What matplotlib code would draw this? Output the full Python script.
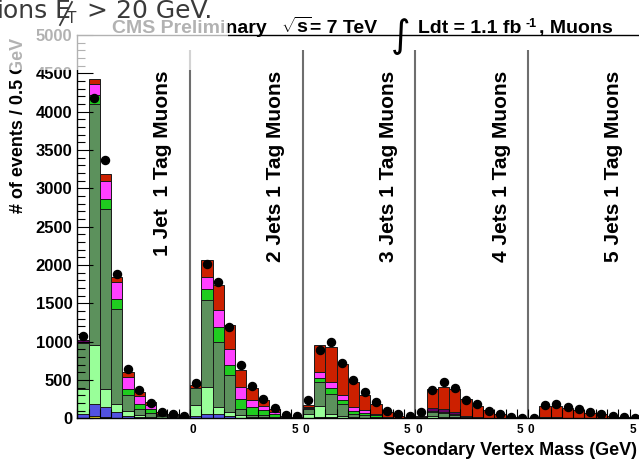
import numpy as np
import matplotlib
matplotlib.use('Agg')
import matplotlib.pyplot as plt
from matplotlib.patches import Rectangle
from matplotlib.lines import Line2D

plt.rcParams['font.family'] = ['Liberation Sans', 'DejaVu Sans']
plt.rcParams['mathtext.fontset'] = 'custom'
plt.rcParams['mathtext.rm'] = 'Liberation Sans:bold'
plt.rcParams['mathtext.it'] = 'Liberation Sans:bold'
plt.rcParams['mathtext.bf'] = 'Liberation Sans:bold'

# jet multiplicity bins, each 0-5 GeV of vertex mass in 0.5 GeV bins
panels = ['1 Jet  1 Tag Muons', '2 Jets 1 Tag Muons', '3 Jets 1 Tag Muons',
          '4 Jets 1 Tag Muons', '5 Jets 1 Tag Muons']

# stacked simulation, events per bin, one list per jet bin
qcd = [[10, 30, 20, 10, 5, 3, 0, 0, 0, 0],
       [3, 10, 5, 3, 0, 0, 0, 0, 0, 0],
       [0] * 10, [0] * 10, [0] * 10]
zjets = [[50, 160, 127, 72, 30, 15, 8, 3, 2, 1],
         [30, 40, 50, 25, 10, 5, 3, 2, 1, 0],
         [8, 17, 12, 10, 5, 3, 2, 0, 0, 0],
         [0, 8, 5, 3, 2, 0, 0, 0, 0, 0],
         [0] * 10]
w_light = [[325, 760, 240, 109, 60, 25, 15, 7, 5, 3],
           [137, 358, 92, 54, 29, 10, 8, 5, 2, 1],
           [50, 139, 40, 25, 10, 6, 4, 0, 0, 0],
           [5, 20, 15, 8, 4, 0, 0, 0, 0, 0],
           [0] * 10]
w_c = [[600, 3154, 2348, 1239, 205, 83, 50, 20, 12, 8],
       [230, 1131, 848, 479, 87, 24, 28, 15, 4, 2],
       [60, 318, 270, 148, 37, 30, 15, 5, 2, 1],
       [8, 60, 55, 35, 10, 5, 3, 2, 1, 0],
       [1, 5, 5, 4, 3, 2, 1, 1, 0, 0]]
w_bb = [[0, 118, 130, 131, 87, 65, 45, 15, 10, 6],
        [0, 152, 196, 130, 131, 108, 65, 30, 6, 3],
        [15, 56, 78, 52, 39, 30, 20, 7, 3, 1],
        [0, 10, 10, 8, 5, 3, 2, 0, 0, 0],
        [0] * 10]
single_top = [[0, 143, 230, 217, 152, 100, 50, 15, 10, 6],
              [0, 152, 218, 218, 151, 88, 53, 25, 4, 3],
              [10, 74, 74, 65, 56, 35, 20, 6, 3, 1],
              [0] * 10, [0] * 10]
other = [[30, 0, 0, 0, 0, 0, 0, 0, 0, 0],
         [0] * 10, [0] * 10,
         [5, 30, 30, 25, 15, 8, 5, 3, 1, 1],
         [1, 6, 6, 5, 4, 3, 2, 1, 1, 0]]
ttbar = [[0, 66, 87, 65, 65, 52, 45, 18, 16, 8],
         [40, 227, 326, 313, 227, 165, 78, 43, 8, 6],
         [37, 348, 456, 413, 333, 196, 122, 62, 22, 12],
         [12, 259, 295, 308, 221, 140, 94, 45, 13, 7],
         [3, 145, 145, 130, 97, 64, 47, 28, 14, 8]]

data = [[1070, 4183, 3365, 1887, 648, 365, 195, 82, 55, 28],
        [455, 2018, 1778, 1191, 691, 417, 250, 137, 46, 33],
        [235, 896, 995, 726, 496, 343, 213, 93, 52, 26],
        [82, 365, 470, 400, 244, 191, 100, 56, 13, 10],
        [9, 176, 187, 152, 115, 82, 52, 33, 18, 8]]

W, H = 639, 459


def fx(x):
    return x / W


def fy(y):
    return 1 - y / H


fig = plt.figure(figsize=(W / 100, H / 100), dpi=100)
ax = fig.add_axes([fx(77.3), fy(418.3), (640.8 - 77.3) / W, (418.3 - 35) / H])

layers = [(qcd, '#e6d41e'), (zjets, '#5252e0'), (w_light, '#99ff99'),
          (w_c, '#5c915c'), (w_bb, '#1fcc1f'), (single_top, '#ff40ff'),
          (other, '#660066'), (ttbar, '#cc2000')]

nbins = 10 * len(panels)
left = np.arange(nbins) * 0.5
bottom = np.zeros(nbins)
for vals, col in layers:
    h = np.concatenate(vals).astype(float)
    ax.bar(left, h, width=0.5, bottom=bottom, align='edge', color=col,
           edgecolor='#1a1a1a', linewidth=0.7, zorder=1)
    bottom += h

ax.plot(left + 0.25, np.concatenate(data), 'o', color='black', ms=5.8, zorder=3)

# panel separators
ax.vlines([5, 10, 15, 20], 0, 4800, colors='#6e6e6e', lw=1.5, zorder=0.8)

for i, lab in enumerate(panels):
    ax.text(5 * (i + 1) - 1.2, 4540, lab, rotation=90, ha='center', va='top',
            fontsize=15, fontweight='bold')

ax.set_xlim(0, 25)
ax.set_ylim(0, 5000)
ax.set_yticks(np.arange(0, 5001, 500))
ax.set_yticks(np.arange(0, 5001, 100), minor=True)
ax.set_xticks(np.arange(0, 25.01, 0.5))
ax.tick_params(axis='y', which='major', direction='in', length=11.5, width=0.8,
               labelsize=12, pad=3.5)
ax.tick_params(axis='y', which='minor', direction='in', length=5.8, width=0.8)
ax.tick_params(axis='x', which='major', direction='in', length=6.5, width=0.8,
               labelbottom=False)
for t in ax.get_yticklabels():
    t.set_fontweight('bold')
for s in ax.spines.values():
    s.set_linewidth(1.0)

# x labels at each panel edge
tr = ax.get_xaxis_transform()
ylab = -(430 - 418.3) / (418.3 - 35)
for b in [10, 15, 20, 25]:
    ax.text(b - 0.36, ylab, '5', transform=tr, ha='center', va='center',
            fontsize=8.5, fontweight='bold')
for b in [5, 10, 15, 20]:
    ax.text(b + 0.13, ylab, '0', transform=tr, ha='center', va='center',
            fontsize=8.5, fontweight='bold')

fig.text(fx(383), fy(455), 'Secondary Vertex Mass (GeV)', fontsize=13,
         fontweight='bold', ha='left', va='baseline')
fig.text(fx(19), fy(38), '# of events / 0.5 GeV', rotation=90, fontsize=13,
         fontweight='bold', ha='center', va='top')

# header
hdr = dict(fontsize=14, fontweight='bold', va='baseline', ha='left')
fig.text(fx(112), fy(33.3), 'CMS Preliminary', **hdr)
fig.text(fx(281), fy(33.3), r'$\sqrt{s}$', **hdr)
fig.text(fx(310), fy(33.3), '= 7 TeV', **hdr)
fig.text(fx(391), fy(47), '\u222b', fontsize=27, family='DejaVu Sans',
         va='baseline', ha='left')
fig.text(fx(418), fy(33.3), 'Ldt = 1.1 fb', **hdr)
fig.text(fx(525), fy(27), '-1', fontsize=9, fontweight='bold', va='baseline')
fig.text(fx(539), fy(33.3), ', Muons', **hdr)

# slide title box partly covering the plot
fig.add_artist(Rectangle((0, fy(70)), fx(228), 70 / H, transform=fig.transFigure,
                         facecolor='white', edgecolor='none', alpha=0.7, zorder=5))
top = dict(fontsize=18, family='DejaVu Sans', color='#3a3a3a', va='baseline',
           ha='left', zorder=6)
fig.text(fx(-3), fy(18), 'ions', **top)
fig.text(fx(55), fy(18), 'E', **top)
fig.text(fx(67), fy(23), 'T', **{**top, 'fontsize': 11})
fig.text(fx(86), fy(18), '>', **top)
fig.text(fx(116), fy(18), '20 GeV.', **top)
fig.add_artist(Line2D([fx(60), fx(72)], [fy(25), fy(2)], transform=fig.transFigure,
                      color='#3a3a3a', lw=1.3, zorder=6))

fig.savefig('out.png', dpi=100)
